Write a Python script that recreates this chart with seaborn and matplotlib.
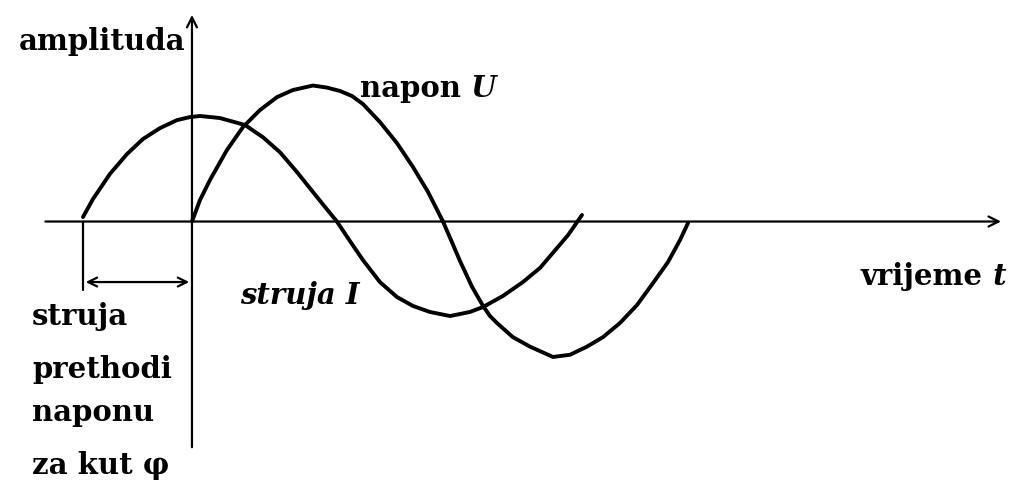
import matplotlib
matplotlib.use('Agg')
import matplotlib.pyplot as plt
import seaborn as sns

# phase in degrees (voltage starts at 0), amplitude relative to voltage peak
napon_t = [0, 5.8, 13, 25.3, 36.9, 49.2, 61.5, 73, 87.5, 97.6, 107, 115.7, 123.6, 135.9,
           148.2, 159.8, 170.7, 181.5, 187.3, 193.8, 202.5, 210.4, 215.5, 220.5, 232, 244.4,
           261, 273.3, 285.6, 297.2, 309.5, 321.8, 333.4, 344.2, 352.9, 358.7]
napon_amp = [0.0, 0.158, 0.305, 0.526, 0.695, 0.82, 0.915, 0.967, 1.0, 0.985, 0.96, 0.923,
             0.864, 0.732, 0.577, 0.401, 0.217, 0.0, -0.136, -0.29, -0.48, -0.62, -0.695,
             -0.746, -0.85, -0.92, -0.996, -0.98, -0.92, -0.85, -0.746, -0.614, -0.452,
             -0.298, -0.136, -0.01]

struja_t = [-78.8, -71.6, -59.3, -47, -35.4, -23.1, -10.8, -1.4, 5.8, 20.2, 38.3, 51.3,
            63.6, 75.9, 87.5, 96.2, 104.8, 114.2, 123.6, 135.9, 148.2, 159.8, 172, 186.6,
            201, 210.4, 224.9, 239.3, 251.6, 261, 272, 282]
struja_amp = [0.033, 0.165, 0.35, 0.496, 0.607, 0.687, 0.746, 0.768, 0.776, 0.761, 0.71,
              0.62, 0.51, 0.364, 0.217, 0.107, 0.0, -0.143, -0.283, -0.445, -0.555, -0.621,
              -0.665, -0.695, -0.665, -0.629, -0.547, -0.445, -0.342, -0.23, -0.099, 0.048]

fazni_pomak = -78.8  # where the current starts

lijevi_tekst = ['struja', 'prethodi', 'naponu', 'za kut φ']

sns.set_theme(style='white')
plt.rcParams['font.family'] = ['DejaVu Serif', 'DejaVu Sans']
plt.rcParams['text.color'] = 'black'

fig = plt.figure(figsize=(10.15, 4.92), dpi=100)
ax = fig.add_axes([0, 0, 1, 1])
ax.set_xlim(-138.8, 595.1)
ax.set_ylim(-1.989, 1.629)
ax.axis('off')

sns.lineplot(x=napon_t, y=napon_amp, color='black', lw=2.8, sort=False, ax=ax)
sns.lineplot(x=struja_t, y=struja_amp, color='black', lw=2.8, sort=False, ax=ax)

# coordinate axes with arrows
arrow_kw = dict(arrowstyle='->', color='black', lw=1.6, mutation_scale=18)
ax.annotate('', xy=(587, 0), xytext=(-108, 0), arrowprops=arrow_kw)
ax.annotate('', xy=(0, 1.54), xytext=(0, -1.68), arrowprops=arrow_kw)

# phase shift marker
ax.plot([fazni_pomak, fazni_pomak], [0, -0.50], color='black', lw=1.6)
ax.annotate('', xy=(0, -0.445), xytext=(fazni_pomak, -0.445),
            arrowprops=dict(arrowstyle='<->', color='black', lw=1.6, mutation_scale=16))

fs = 21
ax.text(-5, 1.26, 'amplituda', ha='right', va='baseline', fontsize=fs, fontweight='bold')

t1 = ax.text(121.5, 0.915, 'napon', ha='left', va='baseline', fontsize=fs, fontweight='bold')
ax.annotate(' U', xy=(1, 0), xycoords=t1, ha='left', va='bottom', fontsize=fs,
            fontweight='bold', style='italic')

t2 = ax.text(483.7, -0.467, 'vrijeme', ha='left', va='baseline', fontsize=fs, fontweight='bold')
ax.annotate(' t', xy=(1, 0), xycoords=t2, ha='left', va='bottom', fontsize=fs,
            fontweight='bold', style='italic')

ax.text(34.7, -0.61, 'struja I', ha='left', va='baseline', fontsize=fs,
        fontweight='bold', style='italic')

for red, y in zip(lijevi_tekst, [-0.76, -1.15, -1.47, -1.86]):
    ax.text(-115.7, y, red, ha='left', va='baseline', fontsize=fs, fontweight='bold')

fig.savefig('out.png', dpi=100, facecolor='white')
